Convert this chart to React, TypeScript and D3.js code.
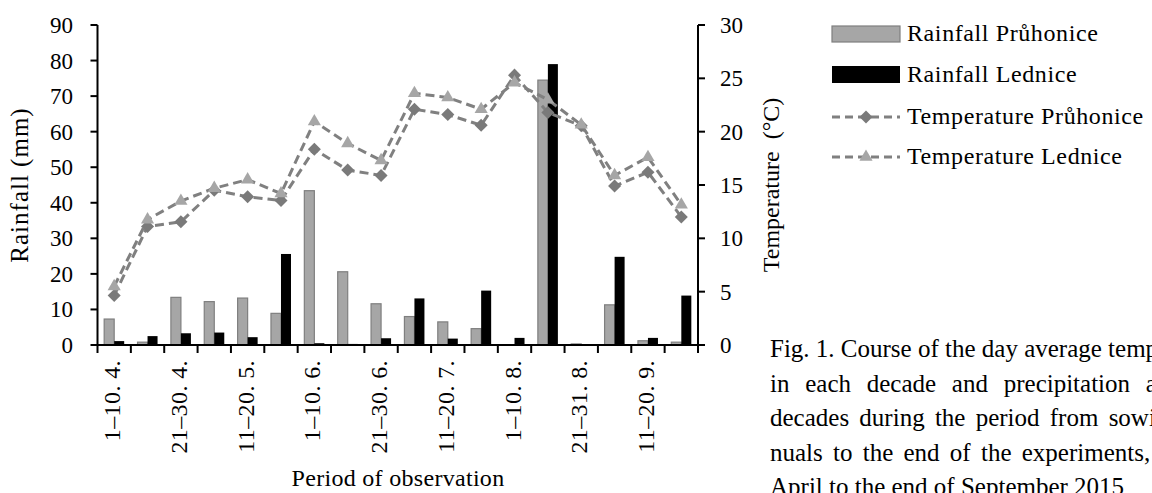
import React from "react";
import * as d3 from "d3";

// decades of the 2015 season, April to September
const categories = [
	"1–10. 4.", "11–20. 4.", "21–30. 4.",
	"1–10. 5.", "11–20. 5.", "21–31. 5.",
	"1–10. 6.", "11–20. 6.", "21–30. 6.",
	"1–10. 7.", "11–20. 7.", "21–31. 7.",
	"1–10. 8.", "11–20. 8.", "21–31. 8.",
	"1–10. 9.", "11–20. 9.", "21–30. 9.",
];

const rainPruhonice = [7.3, 0.8, 13.4, 12.2, 13.2, 8.9, 43.4, 20.6, 11.6, 8.0, 6.5, 4.6, 0.1, 74.5, 0.3, 11.3, 1.2, 0.8];
const rainLednice = [1.1, 2.5, 3.3, 3.5, 2.2, 25.6, 0.5, 0.3, 1.9, 13.1, 1.8, 15.3, 2.0, 79.0, 0, 24.8, 2.0, 13.9];
const tempPruhonice = [4.65, 11.1, 11.55, 14.5, 13.9, 13.55, 18.35, 16.4, 15.9, 22.1, 21.6, 20.6, 25.3, 21.8, 20.55, 14.9, 16.2, 12.0];
const tempLednice = [5.5, 11.75, 13.5, 14.7, 15.5, 14.2, 20.95, 18.9, 17.3, 23.6, 23.2, 22.1, 24.6, 23.0, 20.65, 15.9, 17.6, 13.15];

const rainTicks = [0, 10, 20, 30, 40, 50, 60, 70, 80, 90];
const tempTicks = [0, 5, 10, 15, 20, 25, 30];

const legendLabels = ["Rainfall Průhonice", "Rainfall Lednice", "Temperature Průhonice", "Temperature Lednice"];

const captionLines = [
	"Fig. 1. Course of the day average temperatures",
	"in each decade and precipitation amounts in",
	"decades during the period from sowing of an-",
	"nuals to the end of the experiments, i.e. from",
	"April to the end of September 2015",
];
// justified column: extra space between words per line
const captionWordSpacing = [0, 9.5, 4, 4, 0];

const FONT = "'Liberation Serif', 'Times New Roman', serif";
const GRAY_BAR = "#a6a6a6";
const GRAY_EDGE = "#7f7f7f";
const LINE = "#808080";
const DIAMOND = "#7a7a7a";
const TRIANGLE = "#a6a6a6";

const App = () => {
	const width = 1152;
	const height = 493;
	const left = 97.5;
	const right = 698;
	const top = 25;
	const bottom = 345;

	const x = d3.scaleBand().domain(categories).range([left, right]);
	const yRain = d3.scaleLinear().domain([0, 90]).range([bottom, top]);
	const yTemp = d3.scaleLinear().domain([0, 30]).range([bottom, top]);
	const bw = x.bandwidth() * 0.3;
	const cx = (c) => x(c) + x.bandwidth() / 2;

	const line = d3
		.line()
		.x((d) => cx(d[0]))
		.y((d) => yTemp(d[1]));

	const diamond = d3.symbol(d3.symbolSquare, 85)();
	const triangle = d3.symbol(d3.symbolTriangle, 75)();
	const dash = "9 5";

	const legendY = [34, 74.5, 117, 157];

	return (
		<svg
			width={width}
			height={height}
			style={{ position: "absolute", left: 0, top: 0, background: "#fff" }}
			fontFamily={FONT}
		>
			{/* bars */}
			{categories.map((c, i) => (
				<g key={"bar" + i}>
					<rect
						x={cx(c) - bw}
						y={yRain(rainPruhonice[i])}
						width={bw}
						height={bottom - yRain(rainPruhonice[i])}
						fill={GRAY_BAR}
						stroke={GRAY_EDGE}
						strokeWidth={1.2}
					/>
					<rect
						x={cx(c)}
						y={yRain(rainLednice[i])}
						width={bw}
						height={bottom - yRain(rainLednice[i])}
						fill="#000"
					/>
				</g>
			))}

			{/* temperature lines */}
			<path
				d={line(categories.map((c, i) => [c, tempPruhonice[i]]))}
				fill="none"
				stroke={LINE}
				strokeWidth={3}
				strokeDasharray={dash}
			/>
			<path
				d={line(categories.map((c, i) => [c, tempLednice[i]]))}
				fill="none"
				stroke={LINE}
				strokeWidth={3}
				strokeDasharray={dash}
			/>
			{categories.map((c, i) => (
				<path
					key={"dm" + i}
					d={diamond}
					transform={`translate(${cx(c)},${yTemp(tempPruhonice[i])}) rotate(45)`}
					fill={DIAMOND}
				/>
			))}
			{categories.map((c, i) => (
				<path
					key={"tr" + i}
					d={triangle}
					transform={`translate(${cx(c)},${yTemp(tempLednice[i])})`}
					fill={TRIANGLE}
				/>
			))}

			{/* left axis */}
			<line x1={left} x2={left} y1={top} y2={bottom} stroke="#000" strokeWidth={2} />
			{rainTicks.map((t) => (
				<g key={"rt" + t}>
					<line x1={left - 7} x2={left} y1={yRain(t)} y2={yRain(t)} stroke="#000" strokeWidth={2} />
					<text x={73} y={yRain(t)} dy="0.35em" textAnchor="end" fontSize={23}>
						{t}
					</text>
				</g>
			))}

			{/* right axis */}
			<line x1={right} x2={right} y1={top} y2={bottom} stroke="#000" strokeWidth={2} />
			{tempTicks.map((t) => (
				<g key={"tt" + t}>
					<line x1={right} x2={right + 7} y1={yTemp(t)} y2={yTemp(t)} stroke="#000" strokeWidth={2} />
					<text x={720} y={yTemp(t)} dy="0.35em" textAnchor="start" fontSize={23}>
						{t}
					</text>
				</g>
			))}

			{/* x axis */}
			<line x1={left - 1} x2={right + 5} y1={bottom} y2={bottom} stroke="#000" strokeWidth={2} />
			{[...categories.map((c) => x(c)), right].map((v, i) => (
				<line key={"xt" + i} x1={v} x2={v} y1={bottom} y2={bottom + 8} stroke="#000" strokeWidth={2} />
			))}
			{categories.map((c, i) =>
				i % 2 === 0 ? (
					<text
						key={"xl" + i}
						transform={`translate(${cx(c) + 6},360) rotate(-90)`}
						textAnchor="end"
						fontSize={24}
						letterSpacing={0.4}
					>
						{c}
					</text>
				) : null
			)}

			{/* axis titles */}
			<text
				transform="translate(28,185) rotate(-90)"
				textAnchor="middle"
				fontSize={25}
				letterSpacing={1}
			>
				Rainfall (mm)
			</text>
			<text
				transform="translate(779,185) rotate(-90)"
				textAnchor="middle"
				fontSize={24}
				style={{ whiteSpace: "pre" }}
			>
				{"Temperature  (°C)"}
			</text>
			<text x={398} y={486} textAnchor="middle" fontSize={24} letterSpacing={0.3}>
				Period of observation
			</text>

			{/* legend */}
			<rect x={832} y={26} width={68} height={16} fill={GRAY_BAR} stroke={GRAY_EDGE} strokeWidth={1.2} />
			<rect x={832} y={66} width={68} height={17} fill="#000" />
			<line x1={832} x2={900} y1={legendY[2]} y2={legendY[2]} stroke={LINE} strokeWidth={3} strokeDasharray="8 5" />
			<path d={diamond} transform={`translate(866,${legendY[2]}) rotate(45)`} fill={DIAMOND} />
			<line x1={832} x2={900} y1={legendY[3]} y2={legendY[3]} stroke={LINE} strokeWidth={3} strokeDasharray="8 5" />
			<path d={triangle} transform={`translate(866,${legendY[3]})`} fill={TRIANGLE} />
			{legendLabels.map((l, i) => (
				<text key={"lg" + i} x={907} y={legendY[i] + 7} fontSize={24} letterSpacing={0.6}>
					{l}
				</text>
			))}

			{/* caption */}
			{captionLines.map((l, i) => (
				<text
					key={"cap" + i}
					x={770}
					y={357 + i * 34.5}
					fontSize={25}
					style={{ wordSpacing: captionWordSpacing[i] + "px" }}
				>
					{l}
				</text>
			))}
		</svg>
	);
};

export default App;
